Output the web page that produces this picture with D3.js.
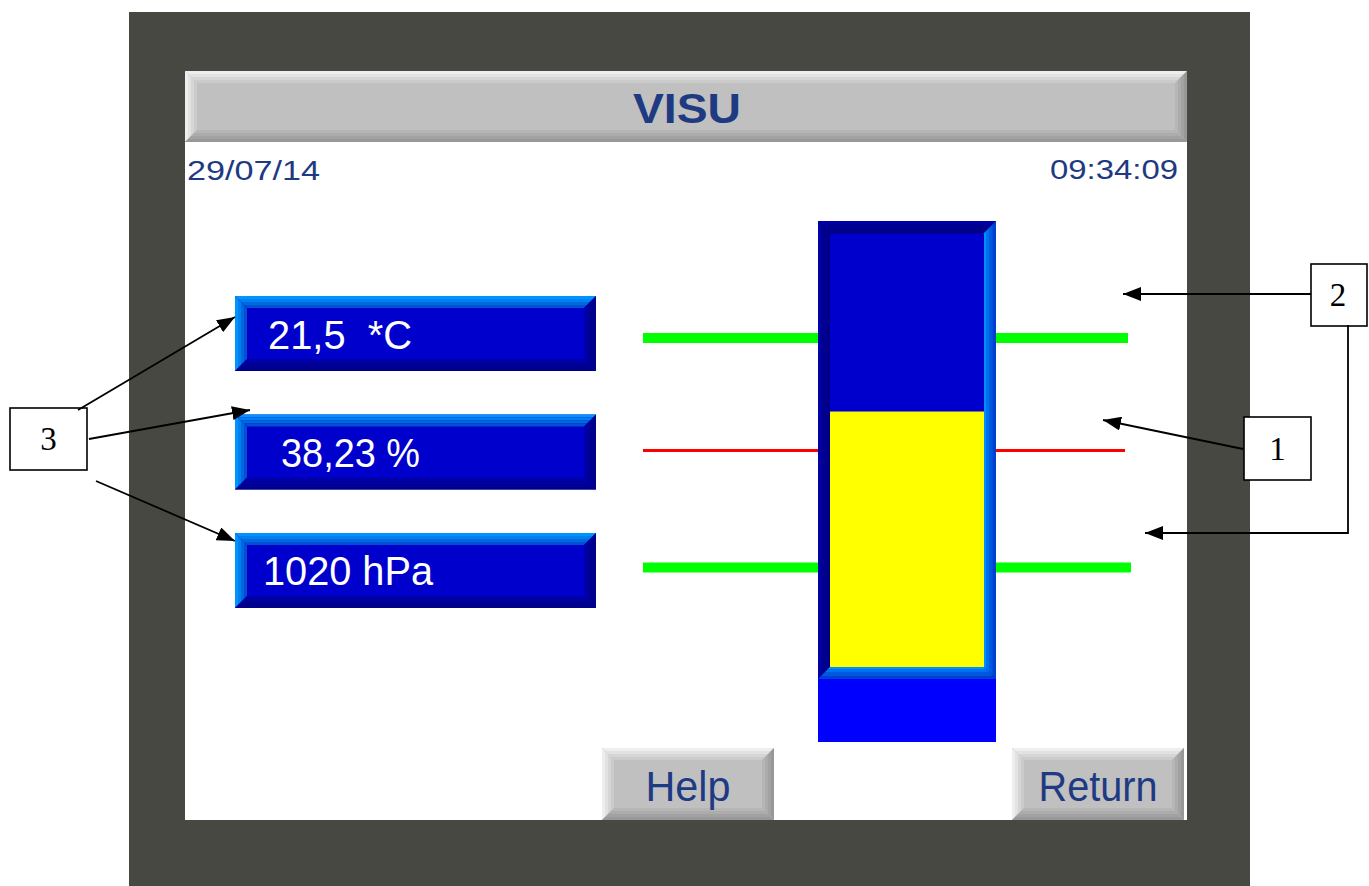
<!DOCTYPE html>
<html>
<head>
<meta charset="utf-8">
<script src="https://cdn.jsdelivr.net/npm/d3@7"></script>
<style>
  html, body { margin: 0; padding: 0; background: #ffffff; }
  svg { display: block; }
</style>
</head>
<body>
<svg id="chart" width="1369" height="886"></svg>
<script>
// ---------------- data ----------------
const titleText = "VISU";
const dateText = "29/07/14";
const timeText = "09:34:09";
const readingLabels = ["21,5  *C", "38,23 %", "1020 hPa"];
const readingKeys = ["temperature", "humidity", "pressure"];
const gaugeLevel = 59;          // filled level of the bar (yellow)
const setpointValue = 50;       // red line (1)
const limitValues = [76, 23];   // green limit lines (2)
const gaugeDomain = [0, 100];
const buttonLabels = ["Help", "Return"];
const calloutLabels = ["1", "2", "3"];

// ---------------- layout ----------------
const svg = d3.select("#chart");
const W = 1369, H = 886;
const NAVY = "#1e3a82";

svg.append("rect").attr("x", 0).attr("y", 0).attr("width", W).attr("height", H).attr("fill", "#ffffff");
// device frame
svg.append("rect").attr("x", 129).attr("y", 12).attr("width", 1121).attr("height", 874).attr("fill", "#484842");
// screen
svg.append("rect").attr("x", 185).attr("y", 71).attr("width", 1002).attr("height", 749).attr("fill", "#ffffff");

// bevel helper: light = colors for top/left (outer->inner), dark = bottom/right (outer->inner)
function bevel(g, x, y, w, h, light, dark, face, t) {
  const n = light.length;
  g.append("rect").attr("x", x).attr("y", y).attr("width", w).attr("height", h).attr("fill", face);
  for (let i = 0; i < n; i++) {
    const o = i * t, tt = t;
    const tl = light[i], br = dark[i];
    const pts = {
      top: [[x+o,y+o],[x+w-o,y+o],[x+w-o-tt,y+o+tt],[x+o+tt,y+o+tt]],
      left: [[x+o,y+o],[x+o+tt,y+o+tt],[x+o+tt,y+h-o-tt],[x+o,y+h-o]],
      bottom: [[x+o,y+h-o],[x+o+tt,y+h-o-tt],[x+w-o-tt,y+h-o-tt],[x+w-o,y+h-o]],
      right: [[x+w-o,y+o],[x+w-o,y+h-o],[x+w-o-tt,y+h-o-tt],[x+w-o-tt,y+o+tt]]
    };
    g.append("polygon").attr("points", pts.top.join(" ")).attr("fill", tl);
    g.append("polygon").attr("points", pts.left.join(" ")).attr("fill", tl);
    g.append("polygon").attr("points", pts.bottom.join(" ")).attr("fill", br);
    g.append("polygon").attr("points", pts.right.join(" ")).attr("fill", br);
  }
}

const grayLight = ["#eeeeee", "#e2e2e2", "#d6d6d6", "#cbcbcb"];
const grayDark = ["#989898", "#a2a2a2", "#acacac", "#b6b6b6"];
const FONT = "'Liberation Sans', Arial, sans-serif";

// title bar
const tg = svg.append("g");
bevel(tg, 185, 71, 1002, 71, grayLight, grayDark, "#c0c0c0", 3);
tg.append("text").attr("x", 687).attr("y", 123).attr("text-anchor", "middle")
  .attr("font-family", FONT).attr("font-weight", "bold").attr("font-size", 43)
  .attr("fill", NAVY).attr("textLength", 108).attr("lengthAdjust", "spacingAndGlyphs").text(titleText);

// date / time
svg.append("text").attr("x", 187).attr("y", 180).attr("font-family", FONT).attr("font-size", 28)
  .attr("fill", NAVY).attr("textLength", 133).attr("lengthAdjust", "spacingAndGlyphs").text(dateText);
svg.append("text").attr("x", 1050).attr("y", 179).attr("font-family", FONT).attr("font-size", 28)
  .attr("fill", NAVY).attr("textLength", 128).attr("lengthAdjust", "spacingAndGlyphs").text(timeText);

// reading boxes
const rowScale = d3.scaleBand().domain(readingKeys).range([296, 608]).paddingInner(0.367).paddingOuter(0);
const blueLight = ["#0094ff", "#0080f0", "#0068e0", "#0050d0"];
const blueDark = ["#000088", "#000090", "#00009a", "#0000a8"];
const textX = [268, 281, 263];
const textW = [144, 139, 170];
readingKeys.forEach((k, i) => {
  const g = svg.append("g");
  const y = rowScale(k), h = rowScale.bandwidth();
  bevel(g, 235, y, 361, h, blueLight, blueDark, "#0000cc", 3);
  g.append("text").attr("x", textX[i]).attr("y", y + h / 2 + 15)
    .attr("font-family", FONT).attr("font-size", 41).attr("fill", "#ffffff")
    .attr("textLength", textW[i]).attr("lengthAdjust", "spacingAndGlyphs")
    .attr("xml:space", "preserve").style("white-space", "pre")
    .text(readingLabels[i]);
});

// gauge
const gy = d3.scaleLinear().domain(gaugeDomain).range([667, 234]);
const GX0 = 818, GX1 = 996;
// lines (drawn behind gauge)
const lineData = [
  { v: limitValues[0], color: "#00ff00", w: 10, x0: 643, x1: 1128 },
  { v: setpointValue, color: "#ff0000", w: 3, x0: 643, x1: 1125 },
  { v: limitValues[1], color: "#00ff00", w: 10, x0: 643, x1: 1131 }
];
svg.selectAll("line.lim").data(lineData).enter().append("line").attr("class", "lim")
  .attr("x1", d => d.x0).attr("x2", d => d.x1)
  .attr("y1", d => gy(d.v)).attr("y2", d => gy(d.v))
  .attr("stroke", d => d.color).attr("stroke-width", d => d.w);

const gg = svg.append("g");
// bottom bright blue block
gg.append("rect").attr("x", GX0).attr("y", gy(gaugeDomain[0]) + 12).attr("width", GX1 - GX0).attr("height", 63).attr("fill", "#0000ff");
// sunken bevel frame: top/left dark, bottom/right light
bevel(gg, GX0, gy(gaugeDomain[1]) - 13, GX1 - GX0, (gy(gaugeDomain[0]) + 12) - (gy(gaugeDomain[1]) - 13),
  ["#0000a8", "#000090", "#000088", "#000080"], ["#0040d0", "#0058dc", "#0070ee", "#0090ff"], "#0000cc", 3.1);
gg.append("rect").attr("x", GX0 + 12).attr("y", gy(gaugeDomain[1])).attr("width", GX1 - GX0 - 24)
  .attr("height", gy(gaugeDomain[0]) - gy(gaugeDomain[1])).attr("fill", "#0000cc");
gg.append("rect").attr("x", GX0 + 12).attr("y", gy(gaugeLevel)).attr("width", GX1 - GX0 - 24)
  .attr("height", gy(gaugeDomain[0]) - gy(gaugeLevel)).attr("fill", "#ffff00");

// buttons
const btnX = [602, 1012];
const btnTextW = [85, 119];
buttonLabels.forEach((b, i) => {
  const g = svg.append("g");
  bevel(g, btnX[i], 748, 172, 72, grayLight, grayDark, "#c0c0c0", 3);
  g.append("text").attr("x", btnX[i] + 86).attr("y", 801).attr("text-anchor", "middle")
    .attr("font-family", FONT).attr("font-size", 43).attr("fill", NAVY)
    .attr("textLength", btnTextW[i]).attr("lengthAdjust", "spacingAndGlyphs").text(b);
});

// ---------------- callouts ----------------
const defs = svg.append("defs");
defs.append("marker").attr("id", "arr").attr("viewBox", "0 0 18 14").attr("refX", 18).attr("refY", 7)
  .attr("markerWidth", 18).attr("markerHeight", 14).attr("markerUnits", "userSpaceOnUse").attr("orient", "auto")
  .append("path").attr("d", "M0,0 L18,7 L0,14 Z").attr("fill", "#000");

const boxes = [
  { label: calloutLabels[0], x: 1244, y: 417, w: 67, h: 63 },
  { label: calloutLabels[1], x: 1311, y: 264, w: 56, h: 62 },
  { label: calloutLabels[2], x: 10, y: 408, w: 77, h: 62 }
];
const cg = svg.append("g");
cg.selectAll("rect").data(boxes).enter().append("rect")
  .attr("x", d => d.x).attr("y", d => d.y).attr("width", d => d.w).attr("height", d => d.h)
  .attr("fill", "#fff").attr("stroke", "#000").attr("stroke-width", 1.6);
cg.selectAll("text").data(boxes).enter().append("text")
  .attr("x", d => d.x + d.w / 2 - (d.label === "2" ? 1 : 0)).attr("y", d => d.y + d.h / 2 + 11)
  .attr("text-anchor", "middle").attr("font-family", "'Liberation Serif', 'Times New Roman', serif")
  .attr("font-size", 33).attr("fill", "#000").text(d => d.label);

const arrows = [
  "M78,410 L235,317",
  "M89,439 L250,410",
  "M96,481 L235,541",
  "M1311,294 L1123,294",
  "M1348,325 L1348,533 L1145,533",
  "M1243,449 L1103,420"
];
cg.selectAll("path.arrow").data(arrows).enter().append("path").attr("class", "arrow")
  .attr("d", d => d).attr("fill", "none").attr("stroke", "#000").attr("stroke-width", 1.8)
  .attr("marker-end", "url(#arr)");
</script>
</body>
</html>
